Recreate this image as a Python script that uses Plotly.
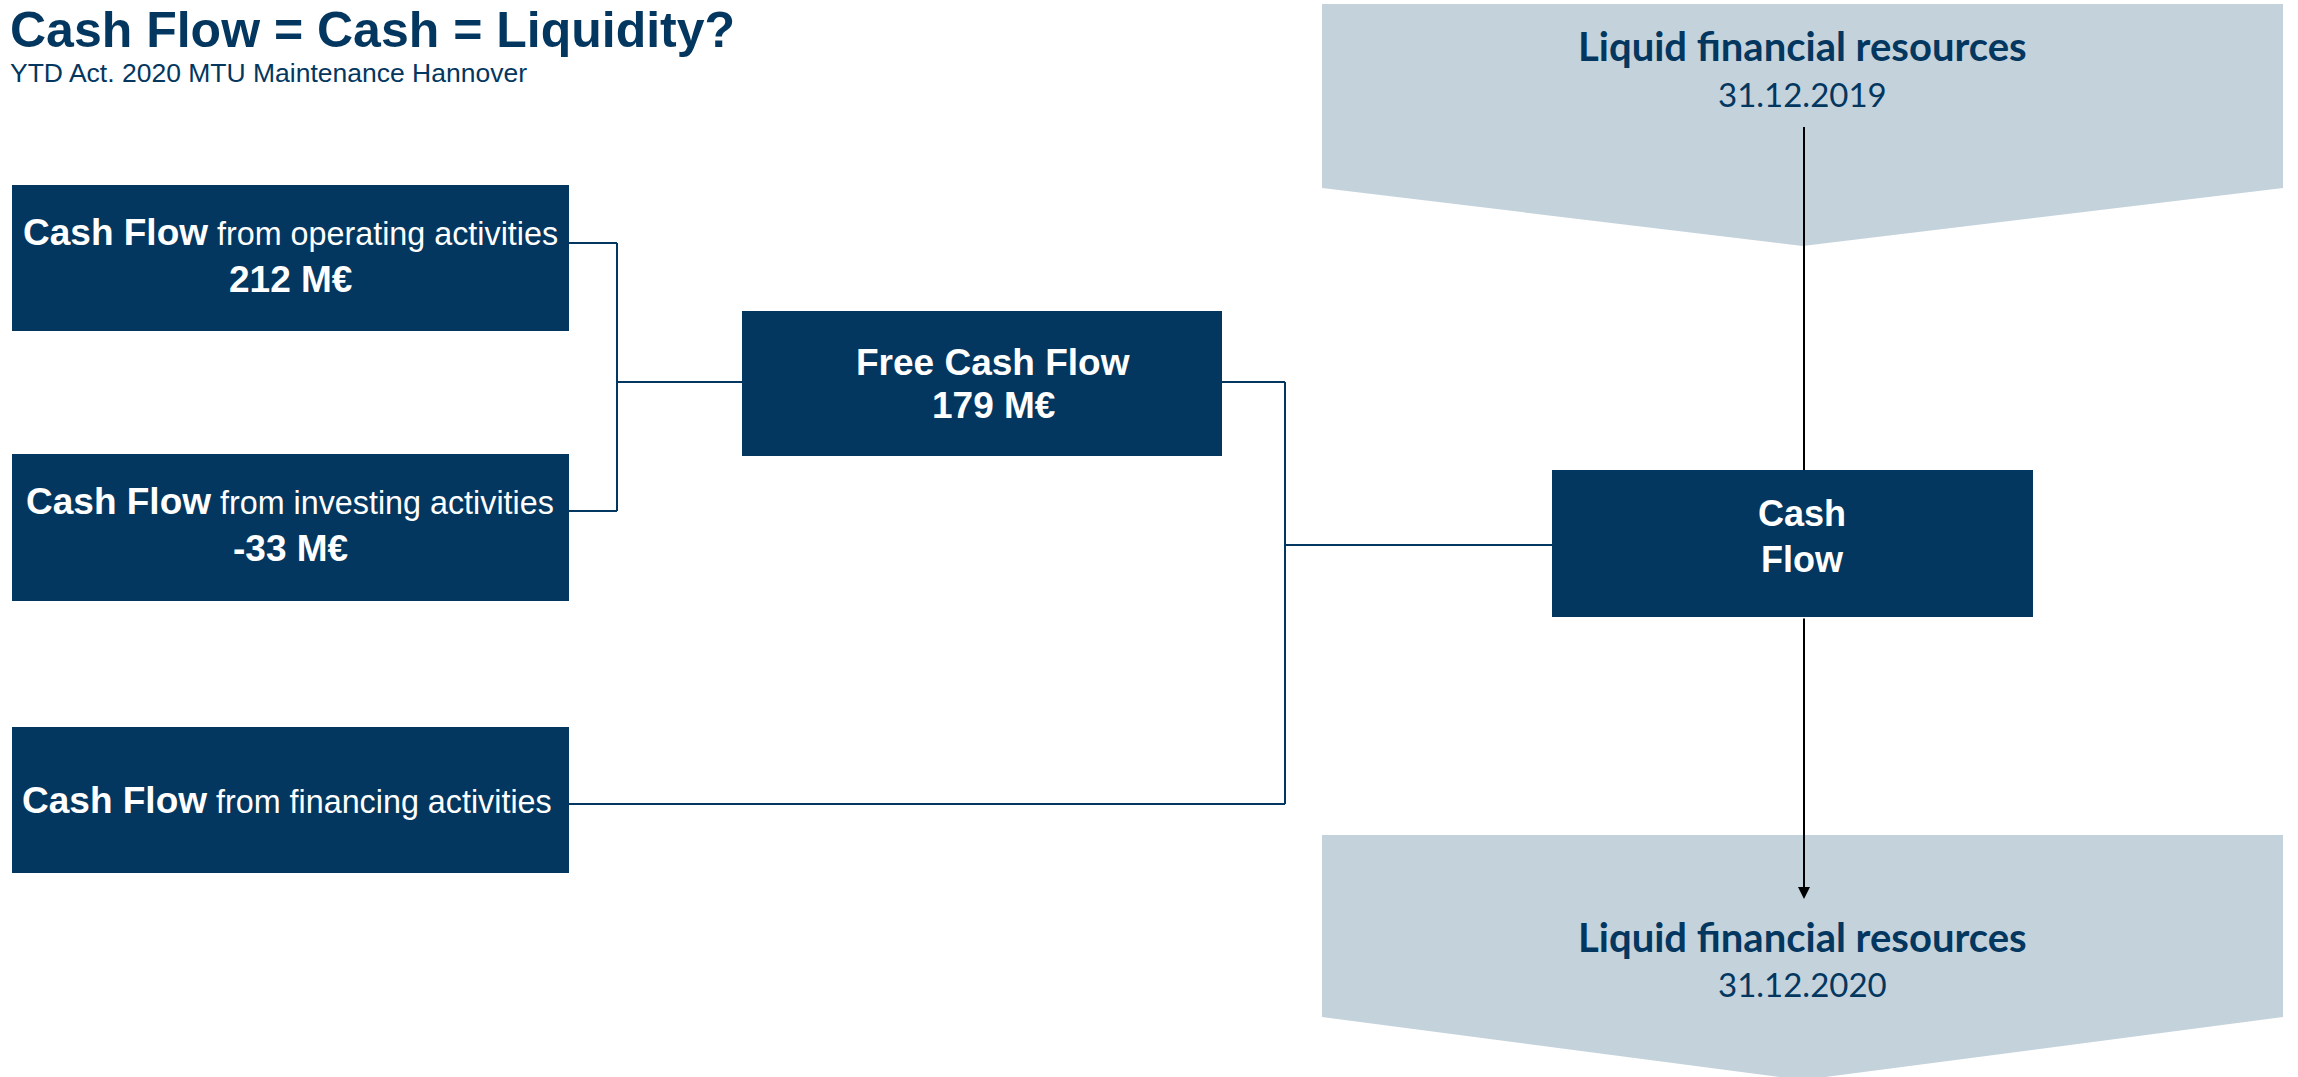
import plotly.graph_objects as go

# ---------------- data ----------------
title_text = "Cash Flow = Cash = Liquidity?"
subtitle_text = "YTD Act. 2020 MTU Maintenance Hannover"
activities = ["operating", "investing", "financing"]
activity_values = [212, -33, None]          # M€ (financing not shown)
free_cash_flow_value = 179                  # M€
unit = "M€"
resource_label = "Liquid financial resources"
resource_dates = ["31.12.2019", "31.12.2020"]

# ---------------- style / layout spec ----------------
W, H = 2298, 1077
NAVY = "#03375F"
LIGHT = "#C4D2DC"
WHITE = "#FFFFFF"
ARIAL = "Liberation Sans, Arial, sans-serif"
CALIBRI = "Lato, Carlito, Calibri, sans-serif"
BOLD_PX, REG_PX = 37, 32.3

left_box_x = (12, 569)
left_box_y = [(185, 331), (454, 601), (727, 873)]
left_line_off = [47, 94]      # cap centres of text lines below box top
left_text_x = [290, 290, 287]
left_conn_y = [243, 511, 804]
left_bus_x = 617

fcf_box = (742, 1222, 311, 456)
fcf_text_x = 993
fcf_text_y = [362, 405]
fcf_conn_y = 382
right_bus_x = 1285

cf_box = (1552, 2033, 470, 617)
cf_text_x = 1802
cf_text_y = [513, 559]
cf_conn_y = 545
center_x = 1804

top_chev = dict(x0=1322, x1=2283, top=4, side=188, tip=246)
bot_chev = dict(x0=1322, x1=2283, top=835, side=1017, tip=1080)
top_text_y = [46, 94]
bot_text_y = [937, 984]

fig = go.Figure()
shapes = []
annotations = []


def rect(x0, x1, y0, y1, color):
    shapes.append(dict(type="rect", xref="x", yref="y", x0=x0, x1=x1, y0=y0, y1=y1,
                       fillcolor=color, line=dict(width=0), layer="above"))


def line(x0, y0, x1, y1, color=NAVY, width=2):
    shapes.append(dict(type="line", xref="x", yref="y", x0=x0, y0=y0, x1=x1, y1=y1,
                       line=dict(color=color, width=width), layer="above"))


def chevron(c):
    xm = (c["x0"] + c["x1"]) / 2
    path = (f"M {c['x0']},{c['top']} L {c['x1']},{c['top']} L {c['x1']},{c['side']} "
            f"L {xm},{c['tip']} L {c['x0']},{c['side']} Z")
    shapes.append(dict(type="path", xref="x", yref="y", path=path,
                       fillcolor=LIGHT, line=dict(width=0), layer="above"))


def text(x, y, s, size, color=WHITE, family=ARIAL, xanchor="center"):
    annotations.append(dict(x=x, y=y, xref="x", yref="y", text=s, showarrow=False,
                            xanchor=xanchor, yanchor="middle",
                            font=dict(size=size, color=color, family=family)))


# chevrons (background)
chevron(top_chev)
chevron(bot_chev)

# left activity boxes
for name, val, (y0, y1), tx in zip(activities, activity_values, left_box_y, left_text_x):
    rect(left_box_x[0], left_box_x[1], y0, y1, NAVY)
    label = (f"<b>Cash Flow</b><span style='font-size:{REG_PX}px'> from {name} activities</span>")
    if val is not None:
        text(tx, y0 + left_line_off[0], label, BOLD_PX)
        text(tx, y0 + left_line_off[1], f"<b>{val} {unit}</b>", BOLD_PX)
    else:
        text(tx, (y0 + y1) / 2, label, BOLD_PX)

# free cash flow box
rect(fcf_box[0], fcf_box[1], fcf_box[2], fcf_box[3], NAVY)
text(fcf_text_x, fcf_text_y[0], "<b>Free Cash Flow</b>", BOLD_PX)
text(fcf_text_x, fcf_text_y[1], f"<b>{free_cash_flow_value} {unit}</b>", BOLD_PX)

# cash flow box
rect(cf_box[0], cf_box[1], cf_box[2], cf_box[3], NAVY)
text(cf_text_x, cf_text_y[0], "<b>Cash</b>", 36)
text(cf_text_x, cf_text_y[1], "<b>Flow</b>", 36)

# connectors (left bus)
line(left_box_x[1], left_conn_y[0], left_bus_x, left_conn_y[0])
line(left_box_x[1], left_conn_y[1], left_bus_x, left_conn_y[1])
line(left_bus_x, left_conn_y[0], left_bus_x, left_conn_y[1])
line(left_bus_x, fcf_conn_y, fcf_box[0], fcf_conn_y)
# right bus
line(fcf_box[1], fcf_conn_y, right_bus_x, fcf_conn_y)
line(right_bus_x, fcf_conn_y, right_bus_x, left_conn_y[2])
line(left_box_x[1], left_conn_y[2], right_bus_x, left_conn_y[2])
line(right_bus_x, cf_conn_y, cf_box[0], cf_conn_y)

# black vertical flow
line(center_x, 127, center_x, cf_box[2], color="#000000", width=2)
annotations.append(dict(x=center_x, y=899, ax=center_x, ay=cf_box[3],
                        xref="x", yref="y", axref="x", ayref="y", text="",
                        showarrow=True, arrowhead=2, arrowsize=1.2, arrowwidth=2,
                        arrowcolor="#000000", standoff=0, startstandoff=0))

# chevron texts
chx = (top_chev["x0"] + top_chev["x1"]) / 2
text(chx, top_text_y[0], f"<b>{resource_label}</b>", 40, color=NAVY, family=CALIBRI)
text(chx, top_text_y[1], resource_dates[0], 33, color=NAVY, family=CALIBRI)
text(chx, bot_text_y[0], f"<b>{resource_label}</b>", 40, color=NAVY, family=CALIBRI)
text(chx, bot_text_y[1], resource_dates[1], 33, color=NAVY, family=CALIBRI)

# titles
text(8, 30, f"<b>{title_text}</b>", 50, color=NAVY, xanchor="left")
text(8, 73, subtitle_text, 26.5, color=NAVY, xanchor="left")

fig.update_layout(
    width=W, height=H,
    margin=dict(l=0, r=0, t=0, b=0),
    paper_bgcolor=WHITE, plot_bgcolor=WHITE,
    xaxis=dict(range=[0, W], visible=False, fixedrange=True),
    yaxis=dict(range=[H, 0], visible=False, fixedrange=True),
    shapes=shapes, annotations=annotations, showlegend=False,
)

fig.write_html("out.html", config={"displayModeBar": False},
               post_script="document.body.style.margin='0';document.body.style.overflow='hidden';")
